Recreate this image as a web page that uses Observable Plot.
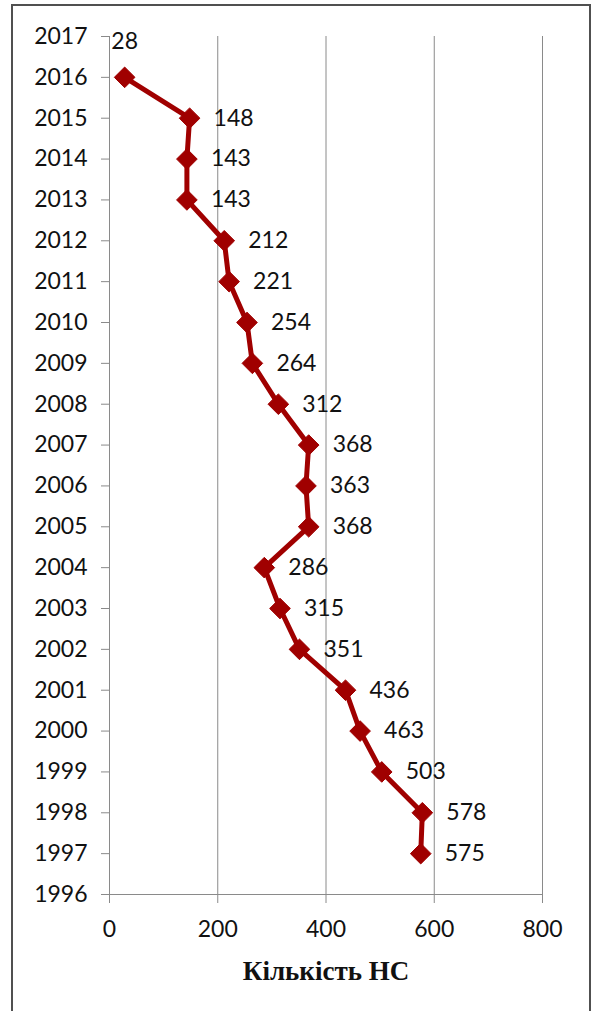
<!DOCTYPE html>
<html>
<head>
<meta charset="utf-8">
<script src="https://cdn.jsdelivr.net/npm/d3@7"></script>
<script src="https://cdn.jsdelivr.net/npm/@observablehq/plot@0.6"></script>
<style>
  html, body { margin: 0; padding: 0; background: #fff; overflow: hidden; }
  #wrap { position: relative; width: 593px; height: 1011px; }
  #frame { position: absolute; left: 11px; top: 4px; width: 580px; height: 1100px;
           border: 2px solid #505050; border-bottom: none; box-sizing: border-box; }
  #chart { position: absolute; left: 0; top: 0; }
  .xtitle, .xtitle text { font-family: "Liberation Serif", "DejaVu Serif", serif !important; }
</style>
</head>
<body>
<div id="wrap"><div id="frame"></div><div id="chart"></div></div>
<script>
const years = [2016, 2015, 2014, 2013, 2012, 2011, 2010, 2009, 2008, 2007, 2006, 2005, 2004, 2003, 2002, 2001, 2000, 1999, 1998, 1997];
const counts = [28, 148, 143, 143, 212, 221, 254, 264, 312, 368, 363, 368, 286, 315, 351, 436, 463, 503, 578, 575];
const yearTicks = [1996, 1997, 1998, 1999, 2000, 2001, 2002, 2003, 2004, 2005, 2006, 2007, 2008, 2009, 2010, 2011, 2012, 2013, 2014, 2015, 2016, 2017];
const countTicks = [0, 200, 400, 600, 800];
const xTitle = "Кількість НС";

const data = years.map((year, i) => ({year, count: counts[i]}));
const red = "#a00000";
const grid = "#8a8a8a";
const font = "Lato, 'Open Sans', sans-serif";

const chart = Plot.plot({
  width: 593,
  height: 1011,
  marginLeft: 109,
  marginRight: 51,
  marginTop: 36,
  marginBottom: 117,
  style: {background: "transparent", fontFamily: font, color: "#111"},
  x: {domain: [countTicks[0], countTicks[countTicks.length - 1]]},
  y: {domain: [yearTicks[0], yearTicks[yearTicks.length - 1]]},
  marks: [
    Plot.ruleX(countTicks.slice(1), {stroke: grid, strokeWidth: 1}),
    Plot.ruleX([countTicks[0]], {stroke: grid, strokeWidth: 1}),
    Plot.ruleY([yearTicks[0]], {stroke: grid, strokeWidth: 1}),
    Plot.axisY(yearTicks, {tickSize: 8, tickPadding: 14, tickFormat: d => String(d), stroke: grid, fill: "#111", fontSize: 23, label: null}),
    Plot.axisX(countTicks, {tickSize: 9, tickPadding: 17, tickFormat: d => String(d), stroke: grid, fill: "#111", fontSize: 23, label: null}),
    Plot.text([xTitle], {frameAnchor: "bottom", dy: 77, className: "xtitle", fontFamily: "Liberation Serif", fontWeight: "bold", fontSize: 27, fill: "#111", lineAnchor: "middle"}),
    Plot.line(data, {x: "count", y: "year", stroke: red, strokeWidth: 5, strokeLinejoin: "round"}),
    Plot.dot(data, {x: "count", y: "year", symbol: "diamond2", r: 9.3, fill: red, stroke: red, strokeWidth: 1}),
    Plot.text(data.slice(1), {x: "count", y: "year", text: d => String(d.count), dx: 24, textAnchor: "start", fontSize: 23, fill: "#111"}),
    Plot.text(data.slice(0, 1), {x: "count", y: "year", text: d => String(d.count), dy: -36, textAnchor: "middle", fontSize: 23, fill: "#111"})
  ]
});
document.getElementById("chart").appendChild(chart);
</script>
</body>
</html>
